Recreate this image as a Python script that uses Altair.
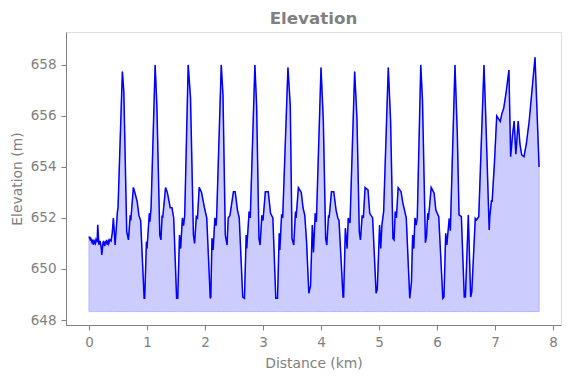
import altair as alt
import pandas as pd

distance_km = [
    0.00, 0.02, 0.03, 0.05, 0.06, 0.08, 0.09, 0.11, 0.12, 0.14, 0.15, 0.17, 0.19, 0.21, 0.22,
    0.24, 0.25, 0.27, 0.28, 0.30, 0.31, 0.33, 0.34, 0.36, 0.38, 0.40, 0.42, 0.45, 0.49, 0.50,
    0.575, 0.60, 0.65, 0.68, 0.71, 0.72, 0.765, 0.79, 0.83, 0.86, 0.89, 0.95, 0.96, 0.99, 1.00,
    1.04, 1.05, 1.07, 1.14, 1.17, 1.22, 1.24, 1.26, 1.27, 1.32, 1.35, 1.40, 1.43, 1.46, 1.51,
    1.53, 1.56, 1.58, 1.61, 1.63, 1.65, 1.71, 1.75, 1.80, 1.82, 1.85, 1.87, 1.90, 1.94, 1.99,
    2.03, 2.09, 2.10, 2.12, 2.14, 2.17, 2.19, 2.20, 2.28, 2.31, 2.35, 2.38, 2.40, 2.43, 2.49,
    2.52, 2.56, 2.59, 2.65, 2.68, 2.71, 2.72, 2.76, 2.78, 2.86, 2.89, 2.93, 2.95, 2.98, 3.00,
    3.04, 3.09, 3.13, 3.17, 3.22, 3.25, 3.28, 3.29, 3.32, 3.34, 3.43, 3.47, 3.50, 3.53, 3.56,
    3.57, 3.61, 3.66, 3.69, 3.72, 3.75, 3.79, 3.82, 3.85, 3.87, 3.90, 3.92, 4.00, 4.04, 4.08,
    4.10, 4.13, 4.14, 4.18, 4.22, 4.26, 4.29, 4.31, 4.38, 4.39, 4.42, 4.45, 4.47, 4.50, 4.58,
    4.62, 4.66, 4.68, 4.71, 4.73, 4.76, 4.81, 4.84, 4.89, 4.95, 4.97, 5.01, 5.03, 5.05, 5.08,
    5.16, 5.20, 5.24, 5.26, 5.28, 5.30, 5.33, 5.38, 5.41, 5.47, 5.53, 5.56, 5.58, 5.60, 5.62,
    5.64, 5.66, 5.72, 5.75, 5.80, 5.82, 5.84, 5.85, 5.90, 5.95, 5.98, 6.03, 6.10, 6.12, 6.15,
    6.17, 6.21, 6.23, 6.31, 6.35, 6.38, 6.42, 6.47, 6.49, 6.54, 6.58, 6.60, 6.66, 6.68, 6.72,
    6.81, 6.84, 6.90, 6.91, 6.94, 6.95, 6.99, 7.03, 7.09, 7.12, 7.15, 7.19, 7.24, 7.27, 7.30,
    7.33, 7.36, 7.40, 7.43, 7.46, 7.50, 7.54, 7.59, 7.69, 7.76,
]

elevation_m = [
    651.27, 651.15, 651.20, 651.05, 651.15, 650.95, 651.10, 651.00, 651.15, 651.05, 651.73, 650.95, 651.10, 650.85, 650.55,
    651.00, 651.10, 650.90, 651.05, 651.10, 650.95, 651.10, 651.00, 651.15, 651.10, 651.40, 652.00, 650.94, 652.25, 652.40,
    657.74, 656.95, 651.46, 651.14, 652.10, 651.90, 653.20, 653.00, 652.64, 652.10, 651.90, 648.85, 648.85, 651.07, 650.80,
    652.18, 651.85, 652.40, 658.00, 656.40, 651.33, 651.14, 652.10, 652.00, 653.19, 653.00, 652.40, 652.40, 652.00, 648.85,
    648.85, 651.33, 650.80, 652.00, 651.70, 652.10, 658.00, 656.70, 651.33, 651.00, 652.05, 652.00, 653.20, 653.00, 652.40,
    652.00, 648.85, 648.90, 651.20, 650.75, 652.00, 651.70, 652.00, 658.00, 656.80, 651.33, 650.94, 652.00, 652.10, 653.03,
    653.03, 652.30, 652.00, 648.90, 648.85, 651.33, 650.80, 652.25, 652.00, 658.00, 656.40, 651.20, 650.94, 652.10, 651.90,
    653.03, 653.03, 652.18, 652.00, 648.85, 648.85, 651.40, 650.75, 652.10, 652.05, 657.90, 656.40, 651.20, 650.94, 652.25,
    652.00, 653.19, 653.00, 652.40, 652.10, 651.10, 649.05, 649.35, 651.72, 650.65, 652.18, 651.85, 657.90, 655.80, 651.20,
    650.94, 652.10, 652.00, 653.03, 653.03, 652.30, 652.00, 651.90, 648.90, 648.90, 651.60, 650.80, 652.00, 651.80, 657.74,
    655.90, 651.46, 651.14, 652.10, 652.00, 653.19, 653.10, 652.18, 652.00, 649.05, 649.20, 651.72, 650.80, 651.72, 652.25,
    657.90, 655.80, 651.20, 651.14, 652.25, 652.00, 653.19, 653.03, 652.60, 652.00, 648.85, 649.50, 651.33, 650.80, 652.00,
    651.72, 652.00, 658.00, 656.60, 651.03, 651.30, 652.18, 651.92, 653.20, 652.97, 652.31, 652.05, 648.85, 648.90, 651.40,
    650.94, 651.98, 651.50, 658.00, 655.30, 652.12, 652.05, 648.90, 648.90, 652.12, 648.90, 649.10, 651.98, 651.92, 652.05,
    658.00, 656.00, 651.53, 652.05, 652.70, 652.63, 654.15, 656.00, 655.78, 656.10, 656.30, 656.89, 657.80, 654.40, 655.20,
    655.80, 654.50, 655.80, 654.90, 654.47, 654.40, 654.90, 655.80, 658.30, 654.00,
]

fill_baseline_m = 648.33

x_ticks = [0, 1, 2, 3, 4, 5, 6, 7, 8]
y_ticks = [648, 650, 652, 654, 656, 658]

df = pd.DataFrame({
    "distance": distance_km,
    "elevation": elevation_m,
    "base": [fill_baseline_m] * len(distance_km),
})

GRAY = "#808080"
FONT = "DejaVu Sans"

x_enc = alt.X(
    "distance:Q",
    scale=alt.Scale(domain=[-0.397, 8.138], nice=False, zero=False),
    axis=alt.Axis(
        values=x_ticks, title="Distance (km)", grid=False,
        domainColor=GRAY, tickColor=GRAY, labelColor=GRAY, titleColor=GRAY,
        labelFont=FONT, titleFont=FONT, labelFontSize=13.5, titleFontSize=13.9,
        titleFontWeight="normal", tickSize=5, labelPadding=5, titlePadding=8,
        domainWidth=1, tickWidth=1,
    ),
)
y_enc = alt.Y(
    "elevation:Q",
    scale=alt.Scale(domain=[647.804, 659.29], nice=False, zero=False),
    axis=alt.Axis(
        values=y_ticks, title="Elevation (m)", grid=False,
        domainColor=GRAY, tickColor=GRAY, labelColor=GRAY, titleColor=GRAY,
        labelFont=FONT, titleFont=FONT, labelFontSize=13.5, titleFontSize=13.9,
        titleFontWeight="normal", tickSize=5, labelPadding=5, titlePadding=6,
        domainWidth=1, tickWidth=1,
    ),
)

area = alt.Chart(df).mark_area(
    color="#ccccff", opacity=1, stroke="#b3b3ff", strokeWidth=1,
).encode(x=x_enc, y=y_enc, y2="base:Q")

line = alt.Chart(df).mark_line(color="#0000ff", strokeWidth=1.5).encode(x=x_enc, y=y_enc)

chart = alt.layer(area, line).properties(
    width=495,
    height=293,
    autosize=alt.AutoSizeParams(type="none"),
    padding={"left": 58, "top": 24, "right": 2, "bottom": 45},
    title=alt.TitleParams(
        "Elevation", font=FONT, fontSize=16.7, fontWeight="bold", color=GRAY,
        anchor="middle", offset=4,
    ),
).configure_view(stroke=None).configure(background="white")

chart.save("out.html", embed_options={"renderer": "svg", "actions": False})
